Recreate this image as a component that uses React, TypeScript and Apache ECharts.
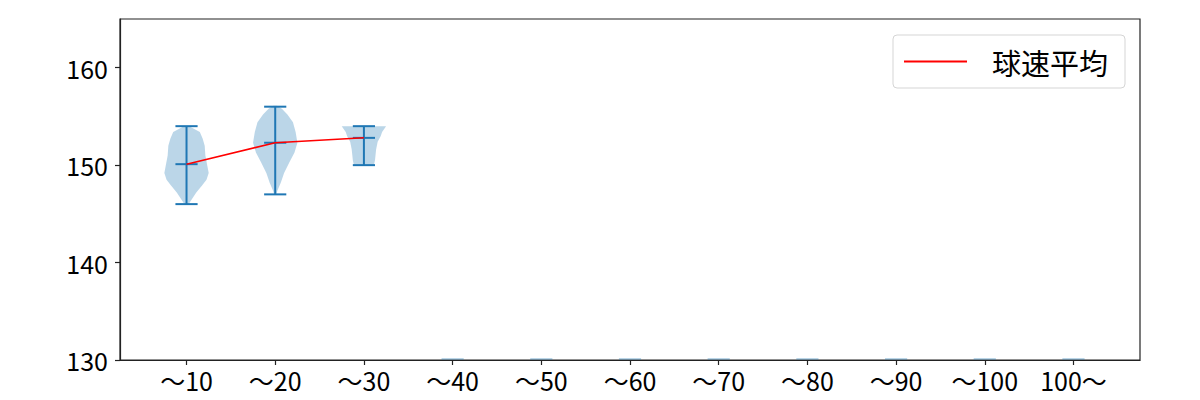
import React, { useRef, useEffect } from 'react';
import * as echarts from 'echarts';

// x categories (pitch count buckets)
const categories = ['〜10', '〜20', '〜30', '〜40', '〜50', '〜60', '〜70', '〜80', '〜90', '〜100', '100〜'];
const yTicks = [130, 140, 150, 160];

// per-bucket speed stats (only first 3 buckets have pitches)
const speedMin = [146, 147, 150];
const speedMax = [154, 156, 154];
const speedMean = [150.1, 152.3, 152.8];

// violin outlines: [speed, relative half width]
const density1 = [
  [146, 0.1], [146.2, 0.15], [146.5, 0.24], [147.2, 0.44], [147.9, 0.7], [148.5, 0.9],
  [149.2, 1.0], [149.9, 0.94], [151, 0.85], [152, 0.82], [152.7, 0.73], [153.4, 0.6], [154, 0.12],
];
const density2 = [
  [147, 0.05], [147.4, 0.1], [148.2, 0.25], [149.2, 0.4], [150.3, 0.64], [151.3, 0.87],
  [152.3, 1.0], [153.4, 0.92], [154.4, 0.8], [155.2, 0.55], [155.8, 0.3], [156.1, 0.08],
];
const density3 = [
  [150, 0.45], [150.5, 0.5], [151.6, 0.55], [152.4, 0.62], [153, 0.76], [153.4, 0.82], [154, 1.0],
];
const densities = [density1, density2, density3];

const VIOLIN_HALF = 0.25;
const CAP_HALF = 0.125;
const BLUE = '#1f77b4';

const App: React.FC = () => {
  const chartRef = useRef<HTMLDivElement>(null);

  useEffect(() => {
    if (!chartRef.current) return;
    const chart = echarts.init(chartRef.current, null, { renderer: 'svg' });
    const font = '"Noto Sans CJK JP", "Noto Sans", sans-serif';

    const violinData = categories.map((_, i) => [i + 1]);

    const option: echarts.EChartsOption = {
      animation: false,
      grid: {
        left: 120, right: 60, top: 19, bottom: 40,
        show: true, borderColor: '#222', borderWidth: 1.2, backgroundColor: 'transparent',
      },
      xAxis: {
        type: 'value', min: 0.25, max: 11.75,
        splitLine: { show: false },
        axisLine: { show: true, lineStyle: { color: '#222', width: 1.2 } },
        axisTick: { show: true, length: 5, lineStyle: { color: '#222', width: 1.2 }, customValues: categories.map((_, i) => i + 1) },
        axisLabel: {
          customValues: categories.map((_, i) => i + 1),
          formatter: (v: number) => categories[Math.round(v) - 1] ?? '',
          color: '#000', fontSize: 25, fontFamily: font, margin: 7,
        },
      },
      yAxis: {
        type: 'value', min: 130, max: 165,
        splitLine: { show: false },
        axisLine: { show: true, lineStyle: { color: '#222', width: 1.2 } },
        axisTick: { show: true, length: 5, lineStyle: { color: '#222', width: 1.2 }, customValues: yTicks },
        axisLabel: { customValues: yTicks, color: '#000', fontSize: 25, fontFamily: font, margin: 12 },
      },
      legend: {
        left: 893, top: 35,
        padding: [12, 17, 12, 11],
        itemWidth: 63, itemHeight: 2,
        backgroundColor: '#fff', borderColor: '#d5d5d5', borderWidth: 1, borderRadius: 4,
        textStyle: { fontSize: 29, fontFamily: font, color: '#000', padding: [0, 0, 0, 20] },
        data: [{ name: '球速平均', icon: 'rect' }],
      },
      series: [
        {
          type: 'custom',
          name: 'violin',
          data: violinData,
          clip: true,
          silent: true,
          renderItem: (params: any, api: any) => {
            const idx = params.dataIndex;
            const x = idx + 1;
            const dens = densities[idx];
            if (!dens) {
              // empty bucket: matplotlib leaves a flat stub on the floor
              const a = api.coord([x - CAP_HALF, 130]);
              const b = api.coord([x + CAP_HALF, 130]);
              return {
                type: 'line',
                shape: { x1: a[0], y1: a[1] - 1, x2: b[0], y2: b[1] - 1 },
                style: { stroke: 'rgba(31,119,180,0.3)', lineWidth: 2 },
              };
            }
            const right = dens.map(([v, w]) => api.coord([x + w * VIOLIN_HALF, v]));
            const left = dens.slice().reverse().map(([v, w]) => api.coord([x - w * VIOLIN_HALF, v]));
            const cap = (v: number) => {
              const a = api.coord([x - CAP_HALF, v]);
              const b = api.coord([x + CAP_HALF, v]);
              return {
                type: 'line',
                shape: { x1: a[0], y1: a[1], x2: b[0], y2: b[1] },
                style: { stroke: BLUE, lineWidth: 2 },
              };
            };
            const top = api.coord([x, speedMax[idx]]);
            const bot = api.coord([x, speedMin[idx]]);
            return {
              type: 'group',
              children: [
                {
                  type: 'polygon',
                  shape: { points: right.concat(left) },
                  style: { fill: 'rgba(31,119,180,0.3)', stroke: 'none' },
                },
                {
                  type: 'line',
                  shape: { x1: top[0], y1: top[1], x2: bot[0], y2: bot[1] },
                  style: { stroke: BLUE, lineWidth: 2 },
                },
                cap(speedMax[idx]),
                cap(speedMin[idx]),
                cap(speedMean[idx]),
              ],
            };
          },
          z: 1,
        },
        {
          type: 'line',
          name: '球速平均',
          data: speedMean.map((v, i) => [i + 1, v]),
          symbol: 'none',
          lineStyle: { color: 'red', width: 1.5 },
          itemStyle: { color: 'red' },
          z: 3,
        },
      ],
    };

    chart.setOption(option);
    return () => chart.dispose();
  }, []);

  return (
    <div
      ref={chartRef}
      style={{ position: 'fixed', left: 0, top: 0, width: 1200, height: 400, background: '#fff' }}
    />
  );
};

export default App;
